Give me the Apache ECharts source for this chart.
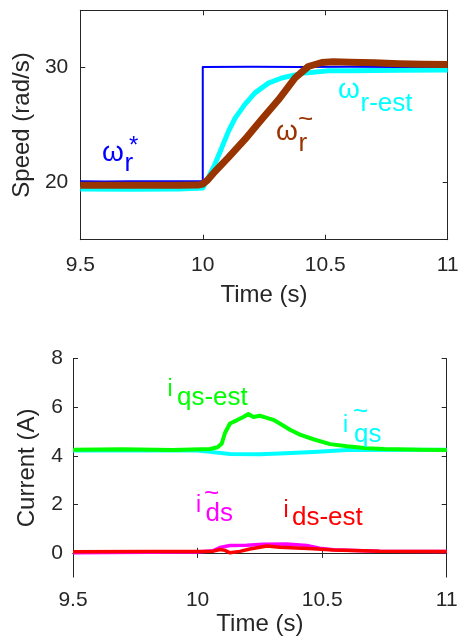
<!DOCTYPE html>
<html>
<head>
<meta charset="utf-8">
<script src="https://cdn.jsdelivr.net/npm/echarts@6/dist/echarts.min.js"></script>
<style>
  html, body { margin: 0; padding: 0; background: #ffffff; }
  #chart { width: 462px; height: 637px; }
</style>
</head>
<body>
<div id="chart"></div>
<script>
// ---- Speed response (rad/s) vs time (s) ----
const speedRef = [
  [9.5, 20.1], [9.6, 20.08], [9.7, 20.1], [9.8, 20.09], [9.9, 20.1], [10.0, 20.1],
  [10.0, 30.05], [10.2, 30.07], [10.4, 30.05], [10.6, 30.08], [10.8, 30.06], [11.0, 30.07]
];
const speedEst = [
  [9.5, 19.42], [9.7, 19.4], [9.9, 19.43], [10.0, 19.5], [10.02, 20.3], [10.05, 21.6],
  [10.077, 23.0], [10.104, 24.4], [10.132, 25.6], [10.172, 26.8], [10.213, 27.8],
  [10.268, 28.65], [10.322, 29.1], [10.404, 29.5], [10.513, 29.72], [10.6, 29.72],
  [10.8, 29.78], [11.0, 29.8]
];
const speedMeas = [
  [9.5, 19.75], [9.7, 19.74], [9.9, 19.75], [9.98, 19.76], [10.0, 19.85], [10.02, 20.2],
  [10.05, 20.95], [10.104, 22.15], [10.172, 23.74], [10.24, 25.48], [10.309, 27.2],
  [10.377, 29.1], [10.431, 30.1], [10.486, 30.45], [10.533, 30.52], [10.6, 30.48],
  [10.7, 30.42], [10.8, 30.35], [10.9, 30.3], [11.0, 30.28]
];

// ---- Currents (A) vs time (s) ----
const iqsEst = [
  [9.5, 4.25], [9.7, 4.27], [9.9, 4.24], [10.05, 4.28], [10.08, 4.35], [10.097, 4.5],
  [10.11, 4.94], [10.13, 5.33], [10.157, 5.46], [10.184, 5.6], [10.204, 5.72],
  [10.224, 5.6], [10.25, 5.65], [10.278, 5.56], [10.304, 5.48], [10.33, 5.33],
  [10.371, 5.07], [10.411, 4.87], [10.465, 4.68], [10.532, 4.48], [10.6, 4.39],
  [10.68, 4.31], [10.75, 4.28], [10.9, 4.25], [11.0, 4.24]
];
const iqsMeas = [
  [9.5, 4.22], [10.0, 4.22], [10.05, 4.16], [10.13, 4.07], [10.25, 4.06], [10.33, 4.09],
  [10.465, 4.16], [10.6, 4.24], [11.0, 4.25]
];
const idsMeas = [
  [9.5, 0.0], [9.8, 0.02], [10.0, 0.03], [10.063, 0.09], [10.09, 0.22], [10.13, 0.3],
  [10.197, 0.31], [10.264, 0.35], [10.357, 0.36], [10.438, 0.3], [10.49, 0.19],
  [10.545, 0.13], [10.73, 0.07], [11.0, 0.05]
];
const idsEst = [
  [9.5, 0.04], [9.8, 0.05], [10.0, 0.05], [10.063, 0.07], [10.09, 0.14], [10.11, 0.1],
  [10.13, 0.0], [10.17, 0.06], [10.21, 0.16], [10.278, 0.28], [10.33, 0.23],
  [10.397, 0.2], [10.465, 0.17], [10.545, 0.12], [10.73, 0.07], [11.0, 0.06]
];

// ---- Axis ticks ----
const timeTicks = [9.5, 10, 10.5, 11];
const speedTicks = [20, 30];
const currentTicks = [0, 2, 4, 6, 8];

const FONT = 'Liberation Sans, Arial, Helvetica, sans-serif';
const AXIS = '#262626';

function xAxes(grid, name, nameGap, labelMargin) {
  return [
    {
      type: 'value', gridIndex: grid, position: 'bottom', min: 9.5, max: 11, interval: 0.5,
      name: name, nameLocation: 'middle', nameGap: nameGap,
      nameTextStyle: { fontFamily: FONT, fontSize: 24, color: AXIS },
      axisLine: { show: true, lineStyle: { color: AXIS, width: 1 } },
      axisTick: { show: true, inside: true, length: 5, lineStyle: { color: AXIS },
        customValues: timeTicks },
      axisLabel: { show: true, margin: labelMargin, fontFamily: FONT, fontSize: 21, color: AXIS,
        customValues: timeTicks },
      splitLine: { show: false }
    },
    {
      type: 'value', gridIndex: grid, position: 'top', min: 9.5, max: 11, interval: 0.5,
      axisLine: { show: true, lineStyle: { color: AXIS, width: 1 } },
      axisTick: { show: true, inside: true, length: 5, lineStyle: { color: AXIS },
        customValues: timeTicks },
      axisLabel: { show: false },
      splitLine: { show: false }
    }
  ];
}

function yAxes(grid, min, max, ticks, name, nameGap, labelMargin) {
  return [
    {
      type: 'value', gridIndex: grid, position: 'left', min: min, max: max,
      name: name, nameLocation: 'middle', nameGap: nameGap,
      nameTextStyle: { fontFamily: FONT, fontSize: 24, color: AXIS },
      axisLine: { show: true, lineStyle: { color: AXIS, width: 1 } },
      axisTick: { show: true, inside: true, length: 5, lineStyle: { color: AXIS },
        customValues: ticks },
      axisLabel: { show: true, margin: labelMargin, fontFamily: FONT, fontSize: 21, color: AXIS,
        customValues: ticks },
      splitLine: { show: false }
    },
    {
      type: 'value', gridIndex: grid, position: 'right', min: min, max: max,
      axisLine: { show: true, lineStyle: { color: AXIS, width: 1 } },
      axisTick: { show: true, inside: true, length: 5, lineStyle: { color: AXIS },
        customValues: ticks },
      axisLabel: { show: false },
      splitLine: { show: false }
    }
  ];
}

function line(name, data, color, width, xi, yi) {
  return {
    type: 'line', name: name, data: data, xAxisIndex: xi, yAxisIndex: yi,
    showSymbol: false, symbol: 'none', smooth: false, silent: true,
    lineStyle: { color: color, width: width, join: 'round', cap: 'butt' }
  };
}

// Text pieces for the curve annotations (symbol, subscript, accent)
function txt(text, x, y, size, color) {
  return {
    type: 'text', x: x, y: y, silent: true, z: 100,
    style: { text: text, fill: color, fontFamily: FONT, fontSize: size,
      align: 'left', verticalAlign: 'middle' }
  };
}

const BLUE = '#0000ff', CYAN = '#00ffff', BROWN = '#993300',
      GREEN = '#00ff00', MAGENTA = '#ff00ff', RED = '#ff0000';

const annotations = [
  // ω_r*
  txt('ω', 102, 153.3, 28, BLUE), txt('r', 124.5, 164, 26, BLUE), txt('*', 129, 146.5, 24, BLUE),
  // ω_r-est
  txt('ω', 338, 90.3, 28, CYAN), txt('r-est', 360.5, 104, 26, CYAN),
  // ω_r~
  txt('ω', 276, 132.3, 28, BROWN), txt('r', 298.5, 144, 26, BROWN), txt('~', 298, 119.5, 26, BROWN),
  // i_qs-est
  txt('i', 167.5, 390, 23, GREEN), txt('qs-est', 177, 398, 26, GREEN),
  // i_qs~
  txt('i', 343, 426, 23, CYAN), txt('qs', 354, 435, 26, CYAN), txt('~', 353, 412, 26, CYAN),
  // i_ds~
  txt('i', 196, 505.3, 23, MAGENTA), txt('ds', 205.5, 514, 26, MAGENTA), txt('~', 204, 494, 26, MAGENTA),
  // i_ds-est
  txt('i', 283.5, 510.3, 23, RED), txt('ds-est', 292, 518, 26, RED)
];

const chart = echarts.init(document.getElementById('chart'), null, { renderer: 'canvas' });
chart.setOption({
  animation: false,
  backgroundColor: '#ffffff',
  grid: [
    { left: 80.3, right: 14.3, top: 10.3, height: 229.4, containLabel: false },
    { left: 73, right: 15.3, top: 358.7, height: 230, containLabel: false }
  ],
  xAxis: [
    ...xAxes(0, 'Time (s)', 44, 15),
    ...xAxes(1, 'Time (s)', 22, 13)
  ],
  yAxis: [
    ...yAxes(0, 15, 35, speedTicks, 'Speed (rad/s)', 43, 12),
    ...yAxes(1, -1, 8, currentTicks, 'Current (A)', 34, 10)
  ],
  series: [
    line('ω_r-est', speedEst, CYAN, 5, 0, 0),
    line('ω_r*', speedRef, BLUE, 2, 0, 0),
    line('ω_r~', speedMeas, BROWN, 7, 0, 0),
    line('i_qs~', iqsMeas, CYAN, 4, 2, 2),
    line('i_qs-est', iqsEst, GREEN, 4, 2, 2),
    line('i_ds~', idsMeas, MAGENTA, 3.5, 2, 2),
    line('i_ds-est', idsEst, RED, 3.5, 2, 2)
  ],
  graphic: annotations
});
</script>
</body>
</html>
